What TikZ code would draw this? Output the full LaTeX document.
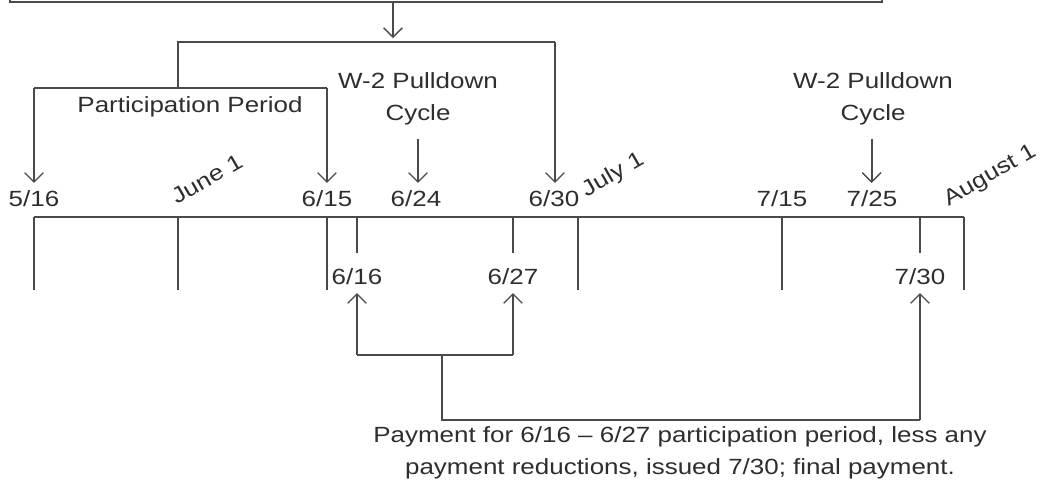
\documentclass[tikz,border=0pt]{standalone}
\usepackage{fontspec}
\setmainfont{Liberation Sans}[FakeStretch=1.18]
\usetikzlibrary{arrows.meta}

\definecolor{linegray}{HTML}{4A4A4A}
\definecolor{textgray}{HTML}{2E2E2E}

\tikzset{
  ln/.style={draw=linegray, line width=1.4pt},
  arr/.style={ln, -{Straight Barb[length=7pt,width=14pt,line width=1pt]}},
  lbl/.style={text=textgray, inner sep=0pt, outer sep=6pt, font=\fontsize{16.5}{24}\selectfont},
  rlbl/.style={lbl, outer sep=0pt, rotate=30, anchor=south west}
}

\begin{document}
\begin{tikzpicture}[x=0.75pt,y=-0.75pt]
\useasboundingbox (0,0) rectangle (1040,487);

% top bracket
\coordinate (tl) at (10,2); \coordinate (tr) at (882,2);
\draw [ln] (10,-10)--(tl)--(tr)--(882,-10);
\coordinate (tm) at (393,2); \coordinate (tmd) at (393,38);
\draw [arr] (tm)--(tmd);

\coordinate (b1) at (178,42); \coordinate (b2) at (555,42);
\coordinate (p1) at (34,88); \coordinate (p2) at (327,88); \coordinate (p0) at (178,88);
\draw [ln] (p0)--(b1)--(b2);
\draw [ln] (p1)--(p2);

% labels above the line
\node [lbl] (d516) at (34,199) {5/16};
\node [lbl] (d615) at (327,199) {6/15};
\node [lbl] (d624) at (416,199) {6/24};
\node [lbl] (d630) at (554,199) {6/30};
\node [lbl] (d715) at (782,199) {7/15};
\node [lbl] (d725) at (872,199) {7/25};

\node [rlbl] (jun) at (177,205) {June 1};
\node [rlbl] (jul) at (589,201) {July 1};
\node [rlbl] (aug) at (951,210) {August 1};

\node [lbl] (part) at (190,107) {Participation Period};
\node [lbl, align=center] (wa) at (418,99) {W-2 Pulldown\\Cycle};
\node [lbl, align=center] (wb) at (873,99) {W-2 Pulldown\\Cycle};

\draw [arr] (p1)--(p1 |- d516.north);
\draw [arr] (p2)--(p2 |- d615.north);
\draw [arr] (b2)--(b2 |- d630.north);
\draw [arr] ([yshift=-4pt]wa.south)--(wa.south |- d624.north);
\draw [arr] ([yshift=-4pt,xshift=-1pt]wb.south)--([xshift=-1pt]wb.south |- d725.north);

% time line
\coordinate (t0) at (34,217); \coordinate (t9) at (964,217);
\draw [ln] (t0)--(t9);
\draw [ln] (34,217)--(34,290);
\draw [ln] (178,217)--(178,290);
\draw [ln] (327,217)--(327,290);
\draw [ln] (357,217)--(357,253);
\draw [ln] (513,217)--(513,253);
\draw [ln] (578,217)--(578,290);
\draw [ln] (782,217)--(782,290);
\draw [ln] (920,217)--(920,253);
\draw [ln] (964,217)--(964,290);

% labels below the line
\node [lbl] (d616) at (357,277) {6/16};
\node [lbl] (d627) at (513,277) {6/27};
\node [lbl] (d730) at (920,277) {7/30};

\coordinate (q1) at (357,355); \coordinate (q2) at (513,355);
\coordinate (q0) at (442,355); \coordinate (r0) at (442,420); \coordinate (r1) at (920,420);
\draw [arr] (q1)--(d616.south);
\draw [arr] (q2)--(d627.south);
\draw [ln] (q1)--(q2);
\draw [ln] (q0)--(r0)--(r1);
\draw [arr] (r1)--(d730.south);

\node [lbl, align=center] (pay) at (680,453) {Payment for 6/16 -- 6/27 participation period, less any\\payment reductions, issued 7/30; final payment.};

\end{tikzpicture}
\end{document}
